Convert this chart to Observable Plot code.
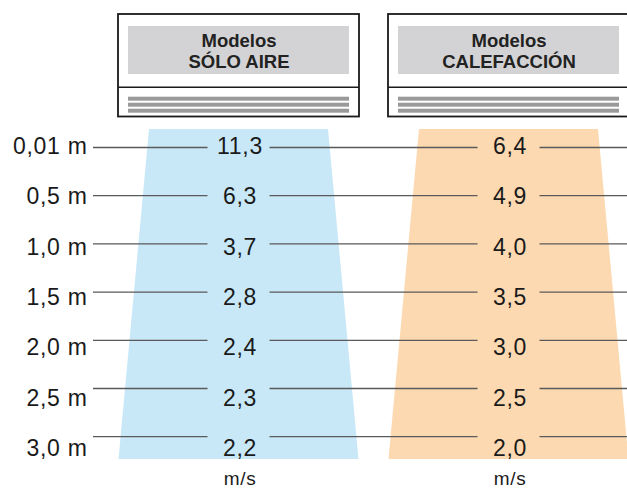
<!DOCTYPE html>
<html><head><meta charset="utf-8">
<script src="https://cdn.jsdelivr.net/npm/d3@7"></script>
<script src="https://cdn.jsdelivr.net/npm/@observablehq/plot@0.6"></script>
<style>
html,body{margin:0;padding:0;background:#fff;}
#chart svg{display:block;letter-spacing:0.7px;}
#chart g[font-weight="bold"]{letter-spacing:0;}
</style></head><body><div id="chart"></div>
<script>
// ---- data ----
const distances = ["0,01 m", "0,5 m", "1,0 m", "1,5 m", "2,0 m", "2,5 m", "3,0 m"];
const models = ["SÓLO AIRE", "CALEFACCIÓN"];
const modelPrefix = "Modelos";
const soloAire = [11.3, 6.3, 3.7, 2.8, 2.4, 2.3, 2.2];
const calefaccion = [6.4, 4.9, 4.0, 3.5, 3.0, 2.5, 2.0];
const unitLabel = "m/s";
const fmt = v => d3.format(".1f")(v).replace(".", ",");

// ---- layout (pixels) ----
const W = 627, H = 488;
const row0 = 147, rowStep = 48.2;
const py = px => (px - row0) / rowStep;          // pixel -> row units
const textPitch = 50.4 / 48.2, textShift = -1 / 48.2;
const colX = [238.5, 508.5];
const blue = "#c8e8f8", orange = "#fcd9b1";

const rows = distances.map((label, i) => ({i, label}));
const series = [soloAire, calefaccion];
const values = models.flatMap((m, j) => series[j].map((v, i) => ({model: m, j, i, v})));

const trap = c => [
  {y: py(129), x1: c - 89.5, x2: c + 89.5},
  {y: py(459), x1: c - 120, x2: c + 120}
];
const gapHalf = 31;
const segX = [[93, colX[0] - gapHalf], [colX[0] + gapHalf, colX[1] - gapHalf], [colX[1] + gapHalf, W]];
const segments = rows.flatMap(r => segX.map(([a, b]) => ({i: r.i, a, b})));
const boxes = models.map((m, j) => ({m, j, c: colX[j]}));
const stripes = boxes.flatMap(b => [[96.7, 100.7], [102.7, 106.7], [108.7, 112.7]].map(([t, u]) => ({c: b.c, t, u})));

const chart = Plot.plot({
  width: W, height: H, margin: 0,
  style: {fontFamily: "'Liberation Sans', Arial, Helvetica, sans-serif", background: "#fff"},
  x: {domain: [0, W], range: [0, W], axis: null},
  y: {domain: [py(0), py(H)], range: [0, H], axis: null},
  marks: [
    Plot.areaX(trap(colX[0]), {y: "y", x1: "x1", x2: "x2", fill: blue}),
    Plot.areaX(trap(colX[1]), {y: "y", x1: "x1", x2: "x2", fill: orange}),
    Plot.ruleY(segments, {y: "i", x1: "a", x2: "b", stroke: "#5a5a5a", strokeWidth: 1.3}),
    Plot.text(values, {x: d => colX[d.j] + 1, y: d => d.i * textPitch + textShift, text: d => fmt(d.v),
      fontSize: 23, fill: "#1a1a1a"}),
    Plot.text(rows, {x: 87, y: d => d.i * textPitch + textShift, text: "label", textAnchor: "end",
      fontSize: 23, fill: "#1a1a1a"}),
    Plot.text(colX, {x: d => d + 1, y: py(478), text: () => unitLabel, fontSize: 19, fill: "#1a1a1a"}),
    // unit boxes
    Plot.rect(boxes, {x1: d => d.c - 120.5, x2: d => d.c + 120.5, y1: py(14), y2: py(116.5),
      fill: "#fff", stroke: "#1a1a1a", strokeWidth: 1.8}),
    Plot.ruleY(boxes, {y: py(86.7), x1: d => d.c - 120.5, x2: d => d.c + 120.5, stroke: "#1a1a1a", strokeWidth: 1.5}),
    Plot.rect(boxes, {x1: d => d.c - 110.5, x2: d => d.c + 110.5, y1: py(26), y2: py(74), fill: "#d3d3d5"}),
    Plot.rect(stripes, {x1: d => d.c - 110.5, x2: d => d.c + 110.5, y1: d => py(d.t), y2: d => py(d.u), fill: "#9a9a9a"}),
    Plot.text(boxes, {x: "c", y: py(41), text: () => modelPrefix, fontSize: 18.5, fontWeight: "bold", fill: "#222"}),
    Plot.text(boxes, {x: "c", y: py(61.6), text: "m", fontSize: 18.5, fontWeight: "bold", fill: "#222"})
  ]
});
document.getElementById("chart").appendChild(chart);
</script></body></html>
